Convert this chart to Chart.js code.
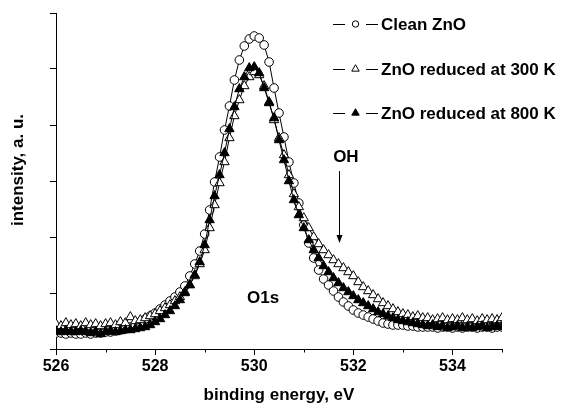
<!DOCTYPE html>
<html>
<head>
<meta charset="utf-8">
<script src="https://cdn.jsdelivr.net/npm/chart.js@4.4.1/dist/chart.umd.min.js"></script>
<style>
  html, body { margin: 0; padding: 0; background: #ffffff; }
  #wrap { width: 561px; height: 406px; }
</style>
</head>
<body>
<div id="wrap"><canvas id="chart" width="561" height="406"></canvas></div>
<script>
// Binding energy grid (eV)
const energy = [
  526.0, 526.1, 526.2, 526.3, 526.4, 526.5, 526.6, 526.7, 526.8, 526.9,
  527.0, 527.1, 527.2, 527.3, 527.4, 527.5, 527.6, 527.7, 527.8, 527.9,
  528.0, 528.1, 528.2, 528.3, 528.4, 528.5, 528.6, 528.7, 528.8, 528.9,
  529.0, 529.1, 529.2, 529.3, 529.4, 529.5, 529.6, 529.7, 529.8, 529.9,
  530.0, 530.1, 530.2, 530.3, 530.4, 530.5, 530.6, 530.7, 530.8, 530.9,
  531.0, 531.1, 531.2, 531.3, 531.4, 531.5, 531.6, 531.7, 531.8, 531.9,
  532.0, 532.1, 532.2, 532.3, 532.4, 532.5, 532.6, 532.7, 532.8, 532.9,
  533.0, 533.1, 533.2, 533.3, 533.4, 533.5, 533.6, 533.7, 533.8, 533.9,
  534.0, 534.1, 534.2, 534.3, 534.4, 534.5, 534.6, 534.7, 534.8, 534.9,
  535.0
];

// O1s intensity, arbitrary units
const cleanZnO = [
  16, 16, 15, 16, 15, 15, 16, 15, 16, 16,
  17, 17, 18, 19, 20, 22, 24, 27, 30, 33,
  36, 40, 44, 48, 52, 57, 63, 73, 85, 98,
  115, 139, 167, 192, 219, 243, 269, 289, 303, 310,
  313, 311, 304, 287, 261, 236, 212, 187, 166, 146,
  124, 106, 91, 79, 70, 64, 58, 52, 47, 43,
  39, 36, 34, 32, 30, 28, 26, 25, 24, 24,
  24, 23, 23, 22, 22, 22, 22, 21, 22, 22,
  21, 22, 21, 22, 22, 21, 22, 22, 21, 22,
  22
];

const reduced300K = [
  25, 23, 26, 24, 25, 23, 26, 24, 25, 23,
  25, 26, 24, 27, 26, 32, 28, 29, 31, 33,
  35, 38, 41, 44, 48, 52, 57, 64, 73, 85,
  99, 121, 144, 166, 187, 211, 233, 249, 263, 272,
  277, 274, 263, 247, 229, 211, 194, 174, 155, 142,
  131, 121, 112, 105, 99, 94, 89, 85, 81, 77,
  73, 67, 62, 58, 54, 50, 46, 43, 40, 37,
  35, 34, 32, 33, 31, 31, 29, 30, 31, 29,
  30, 29, 31, 29, 30, 28, 30, 29, 30, 29,
  31
];

const reduced800K = [
  18, 17, 18, 17, 17, 18, 17, 16, 17, 15,
  17, 18, 17, 18, 19, 19, 20, 21, 22, 24,
  27, 30, 34, 38, 43, 49, 56, 64, 74, 87,
  104, 129, 153, 174, 196, 220, 242, 260, 272, 281,
  282, 276, 261, 246, 231, 209, 189, 168, 149, 134,
  121, 109, 99, 91, 83, 77, 71, 66, 61, 57,
  53, 49, 46, 43, 40, 37, 35, 33, 31, 29,
  28, 27, 26, 25, 24, 23, 24, 22, 23, 21,
  22, 23, 21, 22, 21, 22, 23, 21, 22, 23,
  22
];

const seriesNames = ['Clean ZnO', 'ZnO reduced at 300 K', 'ZnO reduced at 800 K'];

// Axis ticks
const xMajorTicks = [526, 528, 530, 532, 534];
const xMinorTicks = [527, 529, 531, 533, 535];
const yTicks = [0, 56, 112, 168, 224, 280, 336];

// Text annotations: peak label and OH shoulder arrow (energy, intensity)
const peakLabel = { text: 'O1s', x: 530.18, y: 51 };
const ohLabel = { text: 'OH', x: 531.85, y: 192 };
const ohArrow = { x: 531.72, yFrom: 178, yTo: 106 };
const yTitle = { text: 'intensity, a. u.', y: 179 };

const FONT = 'Arial, "Liberation Sans", Helvetica, sans-serif';
const toXY = arr => energy.map((e, i) => ({ x: e, y: arr[i] }));

const markerStyles = [
  { pointStyle: 'circle', radius: 4.3, legendRadius: 3.2, fill: '#ffffff' },
  { pointStyle: 'triangle', radius: 5.4, legendRadius: 4.3, fill: '#ffffff' },
  { pointStyle: 'triangle', radius: 5.4, legendRadius: 4.3, fill: '#000000' }
];

function makeDataset(label, values, idx, order) {
  const m = markerStyles[idx];
  return {
    label: label,
    data: toXY(values),
    borderColor: '#000000',
    borderWidth: 1,
    pointStyle: m.pointStyle,
    pointRadius: m.radius,
    pointBackgroundColor: m.fill,
    pointBorderColor: '#000000',
    pointBorderWidth: 1,
    fill: false,
    tension: 0,
    order: order
  };
}

// Legend drawn inside the plot, top-right
const insideLegend = {
  id: 'insideLegend',
  afterDraw(chart) {
    const ctx = chart.ctx;
    const rows = [24, 69, 113];
    ctx.save();
    ctx.font = 'bold 17px ' + FONT;
    ctx.textBaseline = 'middle';
    ctx.textAlign = 'left';
    ctx.fillStyle = '#000000';
    ctx.strokeStyle = '#000000';
    ctx.lineWidth = 1;
    seriesNames.forEach((name, i) => {
      const y = rows[i];
      ctx.beginPath();
      ctx.moveTo(333, y + 0.5); ctx.lineTo(345, y + 0.5);
      ctx.moveTo(366, y + 0.5); ctx.lineTo(378, y + 0.5);
      ctx.stroke();
      const m = markerStyles[i];
      ctx.fillStyle = m.fill;
      Chart.helpers.drawPoint(ctx, {
        pointStyle: m.pointStyle, radius: m.legendRadius, rotation: 0, borderWidth: 1
      }, 355.5, y);
      ctx.fillStyle = '#000000';
      ctx.fillText(name, 381, y + 1);
    });
    ctx.restore();
  }
};

// Minor x ticks, y-axis title, peak label and OH arrow
const annotations = {
  id: 'annotations',
  afterDraw(chart) {
    const ctx = chart.ctx;
    const xs = chart.scales.x, ys = chart.scales.y;
    const base = chart.chartArea.bottom;
    ctx.save();
    ctx.strokeStyle = '#000000';
    ctx.lineWidth = 1;
    ctx.beginPath();
    xMinorTicks.forEach(v => {
      const px = Math.round(xs.getPixelForValue(v)) + 0.5;
      ctx.moveTo(px, base);
      ctx.lineTo(px, base + 3.5);
    });
    ctx.stroke();

    ctx.fillStyle = '#000000';
    ctx.font = 'bold 17px ' + FONT;
    ctx.textAlign = 'center';
    ctx.textBaseline = 'middle';

    ctx.save();
    ctx.translate(18, ys.getPixelForValue(yTitle.y));
    ctx.rotate(-Math.PI / 2);
    ctx.fillText(yTitle.text, 0, 0);
    ctx.restore();

    ctx.fillText(peakLabel.text, xs.getPixelForValue(peakLabel.x), ys.getPixelForValue(peakLabel.y));
    ctx.fillText(ohLabel.text, xs.getPixelForValue(ohLabel.x), ys.getPixelForValue(ohLabel.y));

    const ax = Math.round(xs.getPixelForValue(ohArrow.x)) + 0.5;
    const y0 = ys.getPixelForValue(ohArrow.yFrom);
    const y1 = ys.getPixelForValue(ohArrow.yTo);
    ctx.beginPath();
    ctx.moveTo(ax, y0);
    ctx.lineTo(ax, y1 - 6);
    ctx.stroke();
    ctx.beginPath();
    ctx.moveTo(ax, y1);
    ctx.lineTo(ax - 3, y1 - 8);
    ctx.lineTo(ax + 3, y1 - 8);
    ctx.closePath();
    ctx.fill();
    ctx.restore();
  }
};

new Chart(document.getElementById('chart'), {
  type: 'line',
  data: {
    datasets: [
      makeDataset(seriesNames[2], reduced800K, 2, 0),
      makeDataset(seriesNames[1], reduced300K, 1, 1),
      makeDataset(seriesNames[0], cleanZnO, 0, 2)
    ]
  },
  options: {
    responsive: false,
    animation: false,
    devicePixelRatio: 1,
    layout: { padding: { top: 13, right: 59, left: 0, bottom: 0 } },
    plugins: {
      legend: { display: false },
      tooltip: { enabled: false }
    },
    scales: {
      x: {
        type: 'linear',
        min: 526,
        max: 535,
        afterBuildTicks: s => { s.ticks = xMajorTicks.map(v => ({ value: v })); },
        afterFit: s => { s.height = 57; },
        border: { display: true, color: '#000000', width: 1 },
        grid: { drawOnChartArea: false, drawTicks: true, tickLength: 6, tickColor: '#000000', tickWidth: 1 },
        ticks: {
          color: '#000000',
          padding: 2,
          maxRotation: 0,
          font: { family: FONT, size: 16, weight: 'bold' },
          callback: v => String(v)
        },
        title: {
          display: true,
          text: 'binding energy, eV',
          color: '#000000',
          font: { family: FONT, size: 17, weight: 'bold' },
          padding: { top: 0, bottom: 0 }
        }
      },
      y: {
        type: 'linear',
        min: 0,
        max: 336,
        afterBuildTicks: s => { s.ticks = yTicks.map(v => ({ value: v })); },
        afterFit: s => { s.width = 56; },
        border: { display: true, color: '#000000', width: 1 },
        grid: { drawOnChartArea: false, drawTicks: true, tickLength: 6, tickColor: '#000000', tickWidth: 1 },
        ticks: { display: false },
        title: { display: false }
      }
    }
  },
  plugins: [insideLegend, annotations]
});
</script>
</body>
</html>
